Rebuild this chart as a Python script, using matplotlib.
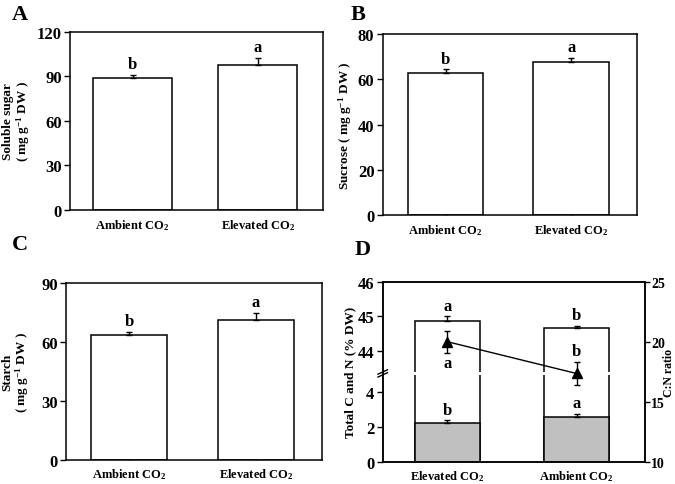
import numpy as np
import matplotlib
matplotlib.use("Agg")
import matplotlib.pyplot as plt

plt.rcParams['font.family'] = ['Liberation Serif', 'DejaVu Serif']
plt.rcParams['font.weight'] = 'bold'
plt.rcParams['mathtext.fontset'] = 'custom'
plt.rcParams['mathtext.rm'] = 'Liberation Serif:bold'
plt.rcParams['mathtext.it'] = 'Liberation Serif:bold'
plt.rcParams['mathtext.bf'] = 'Liberation Serif:bold'

# data
groups_abc = ['Ambient CO$_2$', 'Elevated CO$_2$']
soluble = [89.0, 97.5]
soluble_err = [2.0, 4.8]
soluble_sig = ['b', 'a']
sucrose = [63.0, 67.8]
sucrose_err = [1.4, 1.6]
sucrose_sig = ['b', 'a']
starch = [63.5, 71.2]
starch_err = [1.7, 3.5]
starch_sig = ['b', 'a']

groups_d = ['Elevated CO$_2$', 'Ambient CO$_2$']
total_c = [44.87, 44.67]
total_c_err = [0.13, 0.06]
total_c_sig = ['a', 'b']
total_n = [2.25, 2.57]
total_n_err = [0.13, 0.18]
total_n_sig = ['b', 'a']
cn_ratio = [20.0, 17.35]
cn_err = [0.9, 0.95]
cn_sig = ['a', 'b']

fig = plt.figure(figsize=(6.75, 4.85), dpi=100)

LW = 1.1


def style_axes(ax):
    for s in ax.spines.values():
        s.set_linewidth(LW)
    ax.tick_params(axis='y', direction='out', length=4, width=1, labelsize=12, pad=2)
    ax.tick_params(axis='x', direction='in', length=3, width=1, labelsize=9, pad=5)


def bar_panel(rect, vals, errs, sig, ylim, yticks, ylabel, width, labx):
    ax = fig.add_axes(rect)
    x = np.arange(len(vals))
    ax.bar(x, vals, width=width, color='white', edgecolor='black', linewidth=LW, zorder=2)
    ax.errorbar(x, vals, yerr=[np.zeros(len(errs)), errs], fmt='none', ecolor='black',
                elinewidth=1, capsize=2.5, capthick=1, zorder=3)
    for xi, v, e, s in zip(x, vals, errs, sig):
        ax.annotate(s, (xi, v + e), xytext=(0, 2), textcoords='offset points',
                    ha='center', va='bottom', fontsize=12, fontweight='bold')
    ax.set_xlim(-0.5, 1.52)
    ax.set_ylim(*ylim)
    ax.set_yticks(yticks)
    ax.set_xticks(x)
    ax.set_xticklabels(groups_abc)
    ax.set_ylabel(ylabel, fontsize=9.5, fontweight='bold', linespacing=1.0)
    ax.yaxis.set_label_coords(labx, 0.5)
    style_axes(ax)
    return ax


bar_panel([0.1037, 0.565, 0.375, 0.367], soluble, soluble_err, soluble_sig,
          (0, 120), [0, 30, 60, 90, 120], 'Soluble sugar\n( mg g$^{-1}$ DW )', 0.63, -0.15)
bar_panel([0.567, 0.5546, 0.376, 0.373], sucrose, sucrose_err, sucrose_sig,
          (0, 80), [0, 20, 40, 60, 80], 'Sucrose ( mg g$^{-1}$ DW )', 0.6, -0.113)
bar_panel([0.0978, 0.0501, 0.379, 0.364], starch, starch_err, starch_sig,
          (0, 90), [0, 30, 60, 90], 'Starch\n( mg g$^{-1}$ DW )', 0.6, -0.137)

# panel D: broken left axis through a piecewise scale
LO, HI, GAP, K = 5.0, 43.4, 0.17, 2.0


def fwd(y):
    y = np.asarray(y, dtype=float)
    return np.where(y <= LO, y,
                    np.where(y < HI, LO + (y - LO) * GAP / (HI - LO), LO + GAP + K * (y - HI)))


def inv(t):
    t = np.asarray(t, dtype=float)
    return np.where(t <= LO, t,
                    np.where(t < LO + GAP, LO + (t - LO) * (HI - LO) / GAP, HI + (t - LO - GAP) / K))


axd = fig.add_axes([0.567, 0.046, 0.3886, 0.3711])
axd.set_yscale('function', functions=(fwd, inv))
xd = np.arange(len(groups_d))
wd = 0.5
axd.bar(xd, total_c, width=wd, color='white', edgecolor='black', linewidth=LW, zorder=2)
axd.errorbar(xd, total_c, yerr=[np.zeros(2), total_c_err], fmt='none', ecolor='black',
             elinewidth=1, capsize=2.5, capthick=1, zorder=3)
axd.bar(xd, total_n, width=wd, color='#c0c0c0', edgecolor='black', linewidth=LW, zorder=2.1)
axd.errorbar(xd, total_n, yerr=[np.zeros(2), total_n_err], fmt='none', ecolor='black',
             elinewidth=1, capsize=2.5, capthick=1, zorder=3)
axd.axhspan(LO, HI, facecolor='white', linewidth=0, zorder=2.2)
for xi, v, e, s in zip(xd, total_c, total_c_err, total_c_sig):
    axd.annotate(s, (xi, v + e), xytext=(0, 2), textcoords='offset points',
                 ha='center', va='bottom', fontsize=12, fontweight='bold', zorder=4)
for xi, v, e, s in zip(xd, total_n, total_n_err, total_n_sig):
    axd.annotate(s, (xi, v + e), xytext=(0, 2), textcoords='offset points',
                 ha='center', va='bottom', fontsize=12, fontweight='bold', zorder=4)
axd.set_xlim(-0.5, 1.53)
axd.set_ylim(0, 46)
axd.set_yticks([0, 2, 4, 44, 45, 46])
axd.set_yticklabels(['0', '2', '4', '44', '45', '46'])
axd.yaxis.set_minor_locator(matplotlib.ticker.NullLocator())
axd.set_xticks(xd)
axd.set_xticklabels(groups_d)
axd.set_ylabel('Total C and N (% DW)', fontsize=9.5, fontweight='bold')
axd.yaxis.set_label_coords(-0.102, 0.5)
style_axes(axd)

# break marks on the left spine
t_mid = float(fwd(LO)) + GAP / 2
frac = t_mid / float(fwd(46))
for dy in (-0.008, 0.008):
    axd.plot([-0.018, 0.018], [frac + dy - 0.012, frac + dy + 0.012], color='black',
             lw=1, transform=axd.transAxes, clip_on=False, zorder=5)

ax2 = axd.twinx()
ax2.errorbar(xd, cn_ratio, yerr=cn_err, fmt='^-', color='black', ms=7, lw=1,
             elinewidth=1, capsize=2.5, capthick=1)
ax2.set_ylim(10, 25)
ax2.set_yticks([10, 15, 20, 25])
ax2.annotate(cn_sig[0], (xd[0], cn_ratio[0] - cn_err[0]), xytext=(0, -2),
             textcoords='offset points', ha='center', va='top', fontsize=12, fontweight='bold')
ax2.annotate(cn_sig[1], (xd[1], cn_ratio[1] + cn_err[1]), xytext=(0, 2),
             textcoords='offset points', ha='center', va='bottom', fontsize=12, fontweight='bold')
ax2.set_ylabel('C:N ratio', fontsize=8.5, fontweight='bold')
ax2.yaxis.set_label_coords(1.068, 0.5)
for s in ax2.spines.values():
    s.set_linewidth(LW)
ax2.tick_params(axis='y', direction='out', length=3.5, width=1, labelsize=10, pad=1)

# panel letters
for lab, x, y in [('A', 0.018, 0.99), ('B', 0.52, 0.99), ('C', 0.018, 0.515), ('D', 0.525, 0.505)]:
    fig.text(x, y, lab, fontsize=16, fontweight='bold', ha='left', va='top')

fig.savefig('out.png', dpi=100)
